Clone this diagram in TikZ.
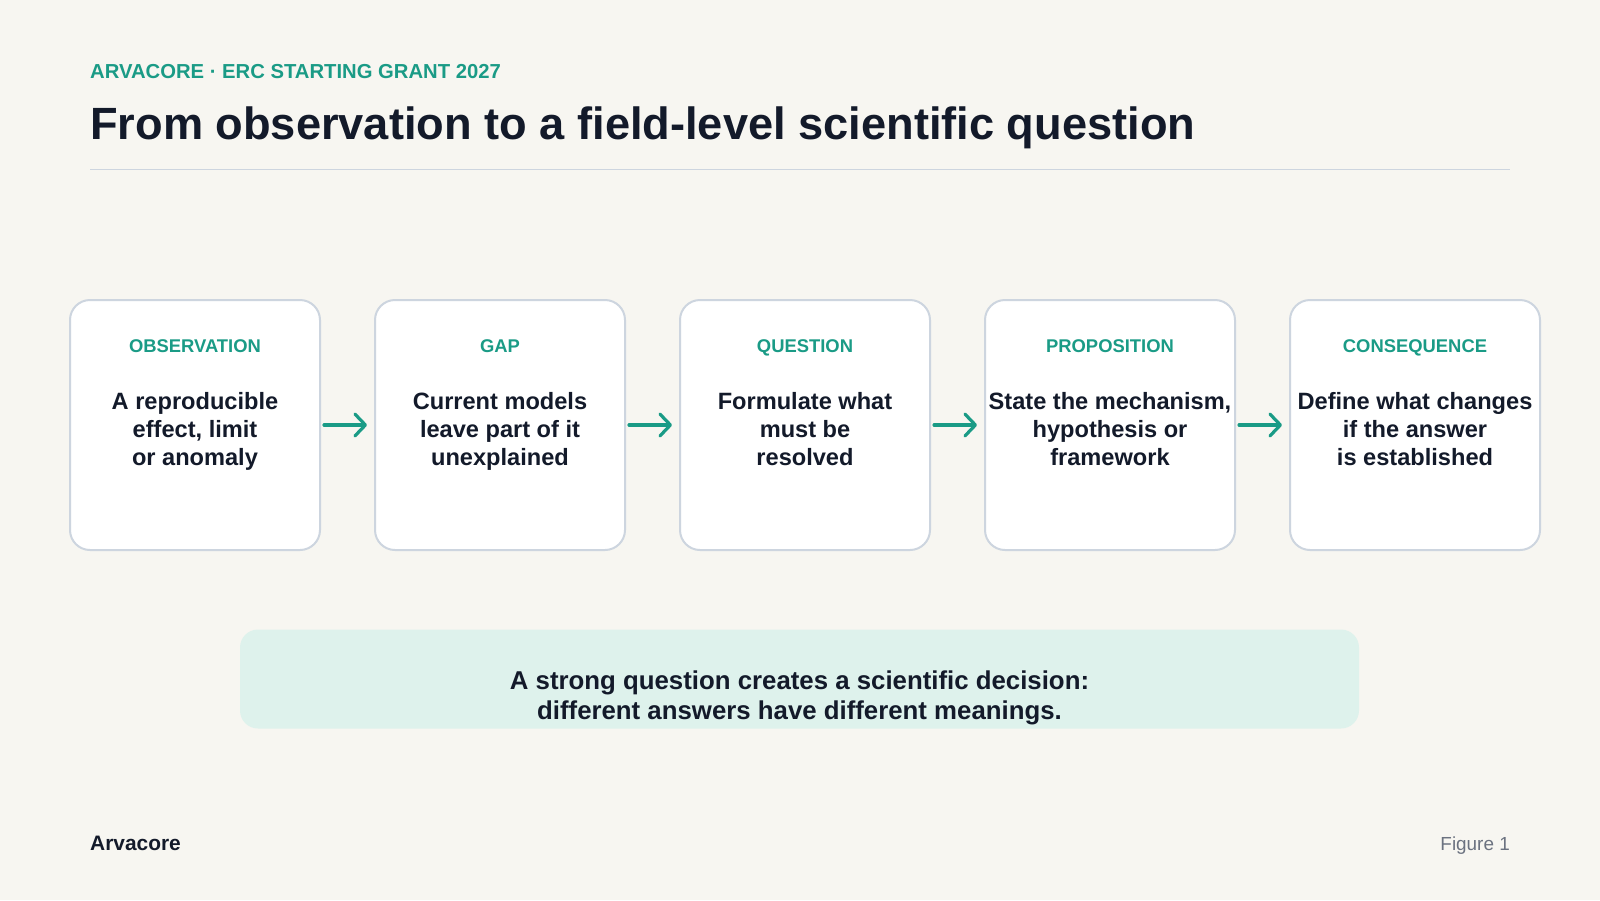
\documentclass[tikz,border=0pt]{standalone}
\usepackage{fontspec}
\setmainfont{Liberation Sans}
\usepackage{tikz}
\usetikzlibrary{
        arrows.meta,
        positioning
    }
\definecolor{bgpaper}{HTML}{F7F6F1}
\definecolor{tealink}{HTML}{1A9B86}
\definecolor{darkink}{HTML}{131A2A}
\definecolor{cardline}{HTML}{CDD5DF}
\definecolor{mintfill}{HTML}{DEF2EC}
\definecolor{greyink}{HTML}{6B7280}

\begin{document}
\begin{tikzpicture}
[x=1pt, y=-1pt,
card/.style={rectangle, rounded corners=20pt, draw=cardline, line width=2pt, fill=white, minimum width=250pt, minimum height=250pt, inner sep=0pt},
head/.style={font=\fontsize{18.4}{22}\selectfont\bfseries, text=tealink, text depth=0pt},
body/.style={font=\fontsize{23.6}{28}\selectfont\bfseries, text=darkink, align=center, text depth=6pt},
arrow/.style={draw=tealink, line width=3.2pt, line cap=round, -{Straight Barb[length=10.5pt, width=22pt, line width=3.2pt, round]}, shorten <=3pt, shorten >=7pt},
node distance=53pt,]
\useasboundingbox (0,0) rectangle (1600,900);
\fill [bgpaper] (0,0) rectangle (1600,900);

\node (kicker) [anchor=base west, inner sep=0pt, text=tealink, font=\fontsize{20.25}{24}\selectfont\bfseries] at (90,78.6) {ARVACORE · ERC STARTING GRANT 2027};
\node (title) [anchor=base west, inner sep=0pt, text=darkink, font=\fontsize{45.2}{50}\selectfont\bfseries] at (90,139.8) {From observation to a field-level scientific question};
\draw [cardline, line width=1.5pt] (90,169.5) -- (1510,169.5);

\node (obsv) [card] at (195,425) {};
\node (gap) [card, right=of obsv] {};
\node (ques) [card, right=of gap] {};
\node (prop) [card, right=of ques] {};
\node (cons) [card, right=of prop] {};

\node [head] at ([yshift=-47pt]obsv.north) {OBSERVATION};
\node [head] at ([yshift=-47pt]gap.north) {GAP};
\node [head] at ([yshift=-47pt]ques.north) {QUESTION};
\node [head] at ([yshift=-47pt]prop.north) {PROPOSITION};
\node [head] at ([yshift=-47pt]cons.north) {CONSEQUENCE};

\node [body] at ([yshift=-7pt]obsv.center) {A reproducible\\effect, limit\\or anomaly};
\node [body] at ([yshift=-7pt]gap.center) {Current models\\leave part of it\\unexplained};
\node [body] at ([yshift=-7pt]ques.center) {Formulate what\\must be\\resolved};
\node [body] at ([yshift=-7pt]prop.center) {State the mechanism,\\hypothesis or\\framework};
\node [body] at ([yshift=-7pt]cons.center) {Define what changes\\if the answer\\is established};

\draw [arrow] (obsv) -- (gap);
\draw [arrow] (gap) -- (ques);
\draw [arrow] (ques) -- (prop);
\draw [arrow] (prop) -- (cons);

\node (note) [rectangle, rounded corners=18pt, fill=mintfill, minimum width=1119pt, minimum height=99pt] at (799.5,679) {};
\node (notetext) [body, font=\fontsize{25.8}{29.5}\selectfont\bfseries] at ([yshift=-19pt]note.center) {A strong question creates a scientific decision:\\different answers have different meanings.};

\node (brand) [anchor=base west, inner sep=0pt, text=darkink, font=\fontsize{20.9}{24}\selectfont\bfseries] at (90,850) {Arvacore};
\node (fignum) [anchor=base east, inner sep=0pt, text=greyink, font=\fontsize{18.9}{24}\selectfont] at (1510,850) {Figure 1};

\end{tikzpicture}
\end{document}
